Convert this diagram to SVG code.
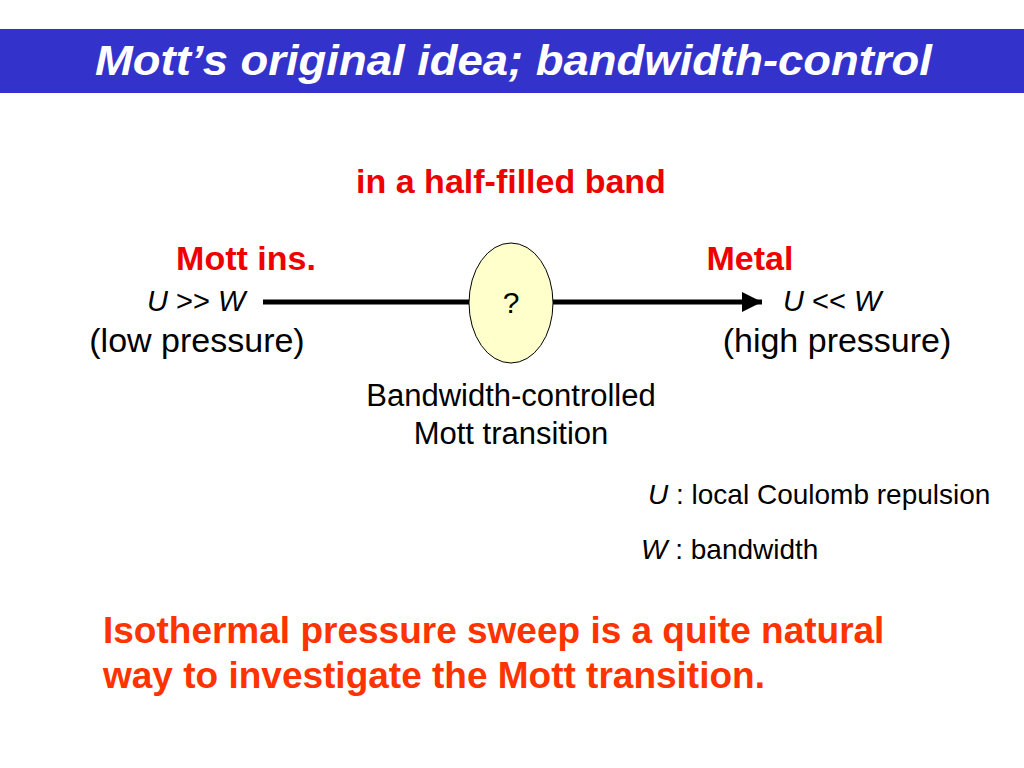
<svg xmlns="http://www.w3.org/2000/svg" width="1024" height="768" viewBox="0 0 1024 768">
<style>
.s{font-family:"Liberation Sans",Arial,sans-serif;}
.red{fill:#EE0000;font-weight:bold;font-size:34px;}
.blk{fill:#000;}
.i{font-style:italic;}
</style>
<defs>
<marker id="ah" markerWidth="4" markerHeight="4" refX="4" refY="2" orient="auto" markerUnits="strokeWidth">
<path d="M0,0 L4,2 L0,4 z" fill="#000"/>
</marker>
</defs>
<rect width="1024" height="768" fill="#fff"/>
<g id="title">
<rect x="0" y="29" width="1024" height="64" fill="#3333CC"/>
<text class="s" x="95" y="75" font-size="43" font-weight="bold" font-style="italic" fill="#fff" textLength="837" lengthAdjust="spacingAndGlyphs">Mott’s original idea; bandwidth-control</text>
</g>
<text class="s red" x="511" y="193" text-anchor="middle">in a half-filled band</text>
<g id="connectors">
<line x1="263" y1="302" x2="469" y2="302" stroke="#000" stroke-width="5"/>
<line x1="553" y1="302" x2="762" y2="302" stroke="#000" stroke-width="5" marker-end="url(#ah)"/>
</g>
<g id="mott-ins">
<text class="s red" x="246" y="270" text-anchor="middle">Mott ins.</text>
<text class="s blk" x="147" y="311" font-size="29"><tspan class="i">U</tspan> &gt;&gt; <tspan class="i">W</tspan></text>
<text class="s blk" x="197" y="352" font-size="34" text-anchor="middle">(low pressure)</text>
</g>
<g id="metal">
<text class="s red" x="750" y="270" text-anchor="middle">Metal</text>
<text class="s blk" x="783" y="311" font-size="29"><tspan class="i">U</tspan> &lt;&lt; <tspan class="i">W</tspan></text>
<text class="s blk" x="837" y="352" font-size="34" text-anchor="middle">(high pressure)</text>
</g>
<g id="transition">
<ellipse cx="511" cy="303" rx="42" ry="60" fill="#FFFFCC" stroke="#000" stroke-width="1"/>
<text class="s blk" x="511" y="313" font-size="30" text-anchor="middle">?</text>
<text class="s blk" x="511" y="406" font-size="31" text-anchor="middle">Bandwidth-controlled</text>
<text class="s blk" x="511" y="444" font-size="31" text-anchor="middle">Mott transition</text>
</g>
<g id="legend">
<text class="s blk" x="648" y="504" font-size="28"><tspan class="i">U</tspan> : local Coulomb repulsion</text>
<text class="s blk" x="641" y="559" font-size="28"><tspan class="i">W</tspan> : bandwidth</text>
</g>
<g id="conclusion">
<text class="s" x="103" y="643" font-size="37" font-weight="bold" fill="#FF3300">Isothermal pressure sweep is a quite natural</text>
<text class="s" x="103" y="688" font-size="37" font-weight="bold" fill="#FF3300">way to investigate the Mott transition.</text>
</g>
</svg>
